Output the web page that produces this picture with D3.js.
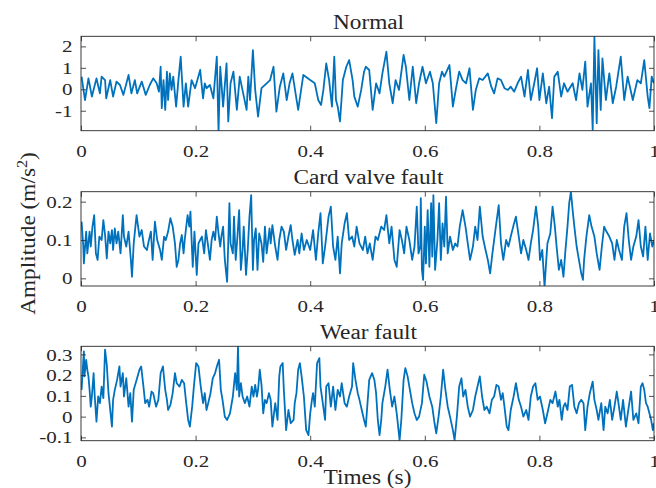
<!DOCTYPE html>
<html>
<head>
<meta charset="utf-8">
<script src="https://cdn.jsdelivr.net/npm/d3@7"></script>
<style>
body { margin: 0; background: #fff; }
svg text { font-family: "Liberation Serif", "Times New Roman", serif; fill: #262626; }
</style>
</head>
<body>
<div id="chart"></div>
<script>
var timeTicks = [0, 0.2, 0.4, 0.6, 0.8, 1];
var normalTicks = [-1, 0, 1, 2];
var cardTicks = [0, 0.1, 0.2];
var wearTicks = [-0.1, 0, 0.1, 0.2, 0.3];
var titles = ["Normal", "Card valve fault", "Wear fault"];

// Normal
var normalT = [0.001,0.007,0.013,0.019,0.027,0.033,0.036,0.042,0.044,0.051,
  0.056,0.062,0.068,0.074,0.083,0.088,0.094,0.098,0.106,0.113,
  0.120,0.126,0.132,0.136,0.139,0.141,0.144,0.147,0.150,0.152,
  0.155,0.158,0.161,0.166,0.170,0.174,0.179,0.183,0.187,0.193,
  0.199,0.208,0.213,0.216,0.219,0.225,0.231,0.237,0.240,0.243,
  0.248,0.254,0.257,0.261,0.266,0.272,0.277,0.283,0.289,0.292,
  0.295,0.300,0.304,0.309,0.315,0.324,0.330,0.336,0.341,0.347,
  0.353,0.359,0.364,0.369,0.379,0.388,0.400,0.408,0.414,0.419,
  0.423,0.428,
  0.433,0.438,0.442,0.445,0.448,0.452,0.457,0.463,0.468,0.474,
  0.477,0.483,0.489,0.494,0.497,0.503,0.509,0.515,0.521,0.526,
  0.533,0.538,0.544,0.549,0.555,0.563,0.567,0.573,0.579,0.585,
  0.590,0.596,0.602,0.609,0.614,0.620,0.625,0.630,0.634,0.643,
  0.649,0.654,0.660,0.666,0.672,0.678,0.684,0.689,0.695,0.701,
  0.710,0.716,0.721,0.727,0.733,0.739,0.745,0.750,0.756,0.762,
  0.768,0.774,0.780,0.785,0.791,0.796,0.800,0.806,0.812,0.817,
  0.822,0.826,0.832,0.838,0.843,0.849,0.858,0.864,0.870,0.875,
  0.880,0.884,0.890,0.893,0.896,0.900,0.903,0.907,0.910,0.916,
  0.922,0.928,0.934,0.942,0.948,0.954,0.963,0.971,0.977,0.983,
  0.989,0.992,0.996,1.000];
var normalA = [0.59,-0.50,0.51,-0.34,0.51,-0.19,0.59,0.43,-0.42,0.43,
  -0.34,0.36,0.20,-0.26,0.67,-0.19,0.43,-0.19,0.36,-0.26,
  0.20,0.51,0.28,-0.11,1.05,-0.88,0.43,-0.96,0.82,-0.50,
  0.74,-0.03,0.59,-0.81,0.43,1.52,-0.81,0.28,-0.81,0.43,
  0.05,0.90,-0.42,0.28,0.05,0.20,-0.42,1.52,-1.97,1.05,
  -0.81,1.21,-1.50,0.28,0.82,-0.96,0.59,-0.19,-0.96,0.59,
  -0.50,1.83,-0.03,-1.27,0.05,0.28,0.43,1.05,-1.04,0.12,
  0.74,-0.50,0.28,0.74,-0.96,0.67,0.43,0.28,-0.50,-0.73,
  -0.03,1.21,
  0.43,-0.81,1.52,-0.50,-0.81,-1.50,0.43,1.05,1.36,0.43,
  -0.34,-0.81,-0.03,0.82,1.05,0.90,-0.96,0.28,-0.19,0.74,
  1.75,0.28,-0.65,0.43,-0.03,1.60,1.05,-0.50,1.05,-0.65,
  0.28,1.05,0.28,0.82,0.28,-1.58,0.28,0.82,0.59,1.13,
  -0.81,-0.03,0.82,0.43,0.28,0.98,-0.96,-0.03,0.51,0.43,
  0.74,0.12,-0.19,0.51,0.43,0.05,-0.03,0.12,-0.11,0.28,
  0.59,-0.34,0.90,-0.50,0.28,0.98,-0.50,0.74,-0.65,0.12,
  -1.35,0.59,0.82,-0.34,0.28,-0.11,0.28,-0.50,0.74,-0.03,
  1.29,-0.81,0.28,-1.89,2.45,-1.58,1.83,-0.96,1.44,-0.50,
  0.74,-0.65,0.12,1.52,-0.50,0.59,-0.50,0.43,0.28,1.36,
  -0.34,-0.88,0.59,0.28];

// Card valve fault
var cardT = [0.001,0.004,0.005,0.009,0.011,0.015,0.017,0.020,0.023,0.026,
  0.029,0.032,0.036,0.039,0.042,0.045,0.048,0.051,0.054,0.056,
  0.059,0.062,0.065,0.069,0.073,0.075,0.079,0.083,0.087,0.089,
  0.092,0.097,0.102,0.106,0.110,0.115,0.118,0.122,0.125,0.129,
  0.133,0.138,0.141,0.145,0.148,0.152,0.156,0.160,0.164,0.167,
  0.170,0.173,0.176,0.179,0.181,0.186,0.189,0.191,0.195,0.198,
  0.202,0.205,0.208,0.211,0.215,0.218,0.222,0.225,0.228,0.231,
  0.234,0.237,0.240,0.243,0.245,0.248,0.251,0.255,0.259,0.261,
  0.265,0.267,0.270,0.273,0.276,0.279,0.282,0.284,0.288,0.291,
  0.294,0.297,0.300,0.302,0.305,0.308,0.311,0.315,0.318,0.321,
  0.324,0.329,0.331,0.334,0.339,0.343,0.346,0.350,0.354,0.358,
  0.362,0.366,0.369,0.373,0.378,0.381,0.385,0.389,0.394,0.400,
  0.405,0.410,0.414,0.418,0.422,0.426,
  0.428,0.432,0.436,0.440,0.444,0.448,0.452,0.455,0.460,0.464,
  0.468,0.473,0.477,0.481,0.486,0.492,0.496,0.500,0.504,0.509,
  0.514,0.518,0.524,0.529,0.533,0.538,0.542,0.547,0.551,0.556,
  0.560,0.564,0.568,0.573,0.578,0.582,0.586,0.589,0.592,0.593,
  0.595,0.597,0.600,0.602,0.605,0.608,0.611,0.613,0.615,0.618,
  0.622,0.625,0.628,0.631,0.634,0.637,0.640,0.644,0.649,0.653,
  0.657,0.661,0.666,0.671,0.675,0.679,0.684,0.688,0.692,0.696,
  0.701,0.706,0.710,0.714,0.718,0.724,0.729,0.733,0.737,0.742,
  0.746,0.750,0.755,0.759,0.764,0.768,0.772,0.777,0.781,0.785,
  0.789,0.794,0.798,0.801,0.805,0.809,0.812,0.814,0.819,0.823,
  0.827,0.830,0.834,0.838,0.842,0.845,0.849,0.852,0.855,0.858,
  0.861,0.865,0.869,0.873,0.876,0.878,0.882,0.887,0.891,0.896,
  0.900,0.905,0.909,0.913,0.917,0.922,0.927,0.931,0.935,0.939,
  0.944,0.948,0.952,0.956,0.960,0.964,0.969,0.973,0.977,0.981,
  0.985,0.989,0.993,0.997,1.000];
var cardA = [0.148,0.083,0.039,0.122,0.065,0.122,0.083,0.135,0.165,0.065,
  0.048,0.109,0.100,0.152,0.113,0.052,0.122,0.091,0.126,0.074,
  0.130,0.091,0.122,0.065,0.165,0.109,0.083,0.122,0.048,0.004,
  0.091,0.165,0.109,0.126,0.083,0.074,0.096,0.122,0.048,0.148,
  0.100,0.074,0.048,0.109,0.100,0.122,0.157,0.135,0.091,0.030,
  0.048,0.091,0.113,0.065,0.100,0.165,0.135,0.174,0.030,0.122,
  0.009,0.091,0.100,0.109,0.065,0.126,0.083,0.048,0.100,0.122,
  0.100,0.161,0.117,0.083,0.109,0.135,0.048,-0.009,0.196,0.091,
  0.065,0.161,0.048,0.109,0.178,0.022,0.074,0.135,0.009,0.074,
  0.161,0.217,0.022,0.100,0.130,0.022,0.117,0.091,0.043,0.135,
  0.065,0.130,0.091,0.139,0.083,0.048,0.100,0.135,0.122,0.074,
  0.109,0.139,0.100,0.061,0.100,0.065,0.117,0.074,0.100,0.074,
  0.126,0.048,0.117,0.170,0.039,0.083,
  0.109,0.161,0.187,0.083,0.048,0.109,0.013,0.091,0.143,0.170,
  0.100,0.109,0.083,0.135,0.091,0.074,0.109,0.065,0.091,0.048,
  0.109,0.100,0.135,0.126,0.165,0.091,0.135,0.048,0.030,0.126,
  0.100,0.065,0.135,0.100,0.048,0.083,0.187,0.065,0.083,0.209,
  0.022,-0.004,0.135,0.039,0.178,0.030,0.196,0.057,0.217,0.022,
  0.100,0.196,0.048,0.143,0.083,0.213,0.065,0.109,0.074,0.091,
  0.083,0.135,0.178,0.135,0.091,0.048,0.083,0.135,0.100,0.187,
  0.109,0.074,0.048,0.013,0.065,0.135,0.191,0.091,0.048,0.100,
  0.083,0.109,0.139,0.161,0.109,0.065,0.100,0.074,0.048,0.091,
  0.126,0.187,0.135,0.048,0.074,-0.022,0.048,0.091,0.117,0.187,
  0.135,0.083,0.022,0.048,0.004,0.065,0.135,0.196,0.226,0.178,
  0.135,0.083,0.048,0.013,-0.004,0.048,0.109,0.165,0.135,0.109,
  0.065,0.022,0.083,0.135,0.122,0.109,0.091,0.048,0.100,0.074,
  0.048,0.135,0.170,0.100,0.048,0.083,0.109,0.152,0.083,0.057,
  0.135,0.048,0.117,0.083,0.100];

// Wear fault
var wearT = [0.001,0.003,0.005,0.006,0.009,0.011,0.013,0.015,0.017,0.019,
  0.022,0.024,0.027,0.030,0.033,0.036,0.039,0.042,0.045,0.048,
  0.051,0.054,0.056,0.059,0.063,0.067,0.069,0.073,0.075,0.079,
  0.083,0.086,0.089,0.092,0.097,0.102,0.105,0.109,0.112,0.116,
  0.119,0.123,0.126,0.131,0.135,0.139,0.143,0.147,0.150,0.152,
  0.156,0.160,0.164,0.167,0.172,0.176,0.180,0.183,0.187,0.190,
  0.194,0.197,0.201,0.205,0.209,0.213,0.216,0.219,0.222,0.226,
  0.230,0.234,0.238,0.241,0.244,0.247,0.251,0.255,0.260,0.265,
  0.269,0.272,0.274,0.276,0.279,0.282,0.286,0.290,0.294,0.298,
  0.301,0.304,0.307,0.309,0.312,0.315,0.318,0.321,0.324,0.328,
  0.331,0.334,0.339,0.343,0.346,0.348,0.352,0.354,0.358,0.362,
  0.366,0.371,0.373,0.376,0.379,0.382,0.385,0.389,0.393,0.397,
  0.400,0.403,0.405,0.408,0.412,0.416,0.418,0.422,0.426,
  0.428,0.432,0.436,0.440,0.444,0.448,0.452,0.455,0.460,0.464,
  0.468,0.473,0.475,0.479,0.483,0.486,0.490,0.494,0.497,0.500,
  0.503,0.508,0.512,0.515,0.518,0.521,0.524,0.526,0.531,0.535,
  0.539,0.543,0.547,0.551,0.556,0.559,0.563,0.566,0.570,0.574,
  0.578,0.582,0.586,0.590,0.595,0.599,0.603,0.608,0.613,0.617,
  0.620,0.624,0.628,0.632,0.636,0.640,0.644,0.649,0.652,0.656,
  0.660,0.664,0.667,0.671,0.675,0.679,0.684,0.688,0.692,0.696,
  0.700,0.704,0.708,0.713,0.717,0.721,0.725,0.729,0.733,0.736,
  0.739,0.743,0.746,0.750,0.755,0.759,0.764,0.768,0.772,0.777,
  0.781,0.785,0.789,0.793,0.797,0.801,0.806,0.810,0.814,0.819,
  0.823,0.828,0.832,0.835,0.839,0.842,0.845,0.849,0.853,0.857,
  0.861,0.865,0.869,0.873,0.877,0.880,0.884,0.888,0.893,0.896,
  0.900,0.903,0.908,0.912,0.915,0.919,0.923,0.927,0.931,0.935,
  0.938,0.942,0.946,0.951,0.956,0.960,0.964,0.969,0.973,0.977,
  0.980,0.983,0.986,0.989,0.992,0.995,0.998,1.000];
var wearA = [0.129,0.226,0.315,0.194,0.274,0.226,0.194,0.129,0.048,0.097,
  0.210,0.097,-0.024,0.097,0.065,0.145,0.089,0.323,0.250,0.113,
  0.032,-0.048,0.081,0.129,0.177,0.242,0.145,0.210,0.097,0.185,
  0.048,0.113,-0.024,0.129,0.177,0.226,0.242,0.145,0.065,0.081,
  0.048,0.121,0.113,0.048,0.081,0.210,0.242,0.129,0.081,0.032,
  0.056,0.113,0.210,0.161,0.145,0.177,0.161,0.081,-0.016,-0.048,
  0.048,0.145,0.258,0.242,0.145,0.065,0.113,0.032,0.065,0.113,
  0.185,0.210,0.250,0.274,0.129,0.081,0.000,-0.016,0.016,0.097,
  0.210,0.129,0.339,0.097,0.161,0.097,0.065,0.097,0.048,0.145,
  0.097,0.153,0.097,0.129,0.226,0.153,0.016,0.081,0.065,0.113,
  0.081,-0.048,0.065,-0.016,0.194,0.242,0.258,0.129,-0.065,0.032,
  -0.032,-0.016,0.065,0.113,0.226,0.258,0.194,0.097,-0.065,-0.089,
  0.016,0.081,0.113,0.048,0.258,0.282,0.145,0.065,-0.016,
  0.145,0.161,0.048,0.145,0.032,0.129,0.097,0.161,0.065,0.048,
  0.097,0.145,0.258,0.177,0.113,0.081,0.032,-0.016,-0.048,0.065,
  0.177,0.210,0.177,0.113,-0.016,-0.089,-0.016,0.065,0.145,0.226,
  0.129,0.048,0.097,0.016,-0.113,-0.016,0.177,0.234,0.194,0.129,
  0.065,0.016,-0.016,0.000,0.065,0.202,0.169,0.097,0.048,-0.032,
  -0.081,0.000,0.097,0.226,0.129,0.048,0.000,-0.065,-0.113,0.000,
  0.145,0.185,0.097,0.129,0.048,0.000,0.032,0.097,0.145,0.194,
  0.097,0.032,0.048,0.016,0.081,0.097,0.153,0.145,0.081,0.113,
  0.048,-0.048,-0.065,0.032,0.097,0.161,0.081,0.048,0.000,0.032,
  -0.016,0.097,0.145,0.161,0.081,0.097,0.032,-0.032,0.016,0.081,
  0.065,0.121,0.048,0.081,-0.016,0.048,0.065,0.032,0.145,0.153,
  0.048,0.016,0.065,0.081,0.065,-0.065,0.048,0.113,0.169,0.081,
  0.032,-0.016,0.065,-0.065,0.048,0.016,0.081,-0.016,0.048,0.121,
  0.065,-0.016,0.081,-0.048,0.048,0.121,-0.016,0.016,-0.032,0.145,
  0.161,0.129,0.065,0.048,0.016,-0.016,-0.065,-0.032];

var w = 656;
var h = 488;
var left = 81;
var right = 654;
var lineColor = "#0072bd";
var axisColor = "#262626";

var svg = d3
  .select("#chart")
  .append("svg")
  .attr("width", w)
  .attr("height", h);

var xScale = d3.scaleLinear().domain([0, 1]).range([left, right]);

function fmt(d) {
  return String(d);
}

// the reference glyphs are wider than Liberation Serif, so stretch them a bit
function widen(sel, k) {
  sel.each(function() {
    var len = this.getComputedTextLength();
    d3.select(this)
      .attr("textLength", len * k)
      .attr("lengthAdjust", "spacingAndGlyphs");
  });
}

function drawPanel(idx, top, bottom, yDomain, yTicks, times, values) {
  var yScale = d3.scaleLinear().domain(yDomain).range([bottom, top]);
  var g = svg.append("g").attr("class", "panel" + idx);

  g.append("clipPath")
    .attr("id", "clip" + idx)
    .append("rect")
    .attr("x", left)
    .attr("y", top)
    .attr("width", right - left)
    .attr("height", bottom - top);

  var line = d3
    .line()
    .x(function(d, i) { return xScale(times[i]); })
    .y(function(d) { return yScale(d); });

  g.append("path")
    .datum(values)
    .attr("clip-path", "url(#clip" + idx + ")")
    .attr("fill", "none")
    .attr("stroke", lineColor)
    .attr("stroke-width", 1.8)
    .attr("stroke-linejoin", "round")
    .attr("d", line);

  // axes with inward ticks, MATLAB style box
  var xb = g.append("g")
    .attr("transform", "translate(0," + bottom + ")")
    .call(d3.axisBottom(xScale).tickValues(timeTicks).tickFormat(fmt)
      .tickSizeInner(-5).tickSizeOuter(0).tickPadding(14));
  var xt = g.append("g")
    .attr("transform", "translate(0," + top + ")")
    .call(d3.axisTop(xScale).tickValues(timeTicks).tickFormat("")
      .tickSizeInner(-5).tickSizeOuter(0));
  var yl = g.append("g")
    .attr("transform", "translate(" + left + ",0)")
    .call(d3.axisLeft(yScale).tickValues(yTicks).tickFormat(fmt)
      .tickSizeInner(-5).tickSizeOuter(0).tickPadding(8.5));
  var yr = g.append("g")
    .attr("transform", "translate(" + right + ",0)")
    .call(d3.axisRight(yScale).tickValues(yTicks).tickFormat("")
      .tickSizeInner(-5).tickSizeOuter(0));

  [xb, xt, yl, yr].forEach(function(a) {
    a.select(".domain").remove();
    a.selectAll("line").attr("stroke", axisColor).attr("stroke-width", 0.8);
    a.selectAll("text")
      .attr("font-family", null)
      .attr("fill", axisColor)
      .style("font-size", "17.5px");
  });
  widen(xb.selectAll("text"), 1.2);
  widen(yl.selectAll("text"), 1.2);

  g.append("rect")
    .attr("x", left)
    .attr("y", top)
    .attr("width", right - left)
    .attr("height", bottom - top)
    .attr("fill", "none")
    .attr("stroke", axisColor)
    .attr("stroke-width", 0.9);

  var title = g.append("text")
    .attr("x", (left + right) / 2 + 1)
    .attr("y", top - 7.5)
    .attr("text-anchor", "middle")
    .style("font-size", "20px")
    .text(titles[idx]);
  widen(title, 1.165);
}

drawPanel(0, 36.3, 130.7, [-1.93, 2.47], normalTicks, normalT, normalA);
drawPanel(1, 191.7, 286, [-0.02, 0.226], cardTicks, cardT, cardA);
drawPanel(2, 346.3, 440.7, [-0.116, 0.339], wearTicks, wearT, wearA);

var xLab = svg.append("text")
  .attr("x", (left + right) / 2)
  .attr("y", 483.5)
  .attr("text-anchor", "middle")
  .style("font-size", "20px")
  .text("Times (s)");
widen(xLab, 1.165);

var yLab = svg.append("text")
  .attr("transform", "translate(35,233.5)rotate(-90)scale(1.165,1)")
  .attr("text-anchor", "middle")
  .style("font-size", "20px");
yLab.append("tspan").text("Amplitude (m/s");
yLab.append("tspan").attr("dy", -8).style("font-size", "14px").text("2");
yLab.append("tspan").attr("dy", 8).text(")");
</script>
</body>
</html>
